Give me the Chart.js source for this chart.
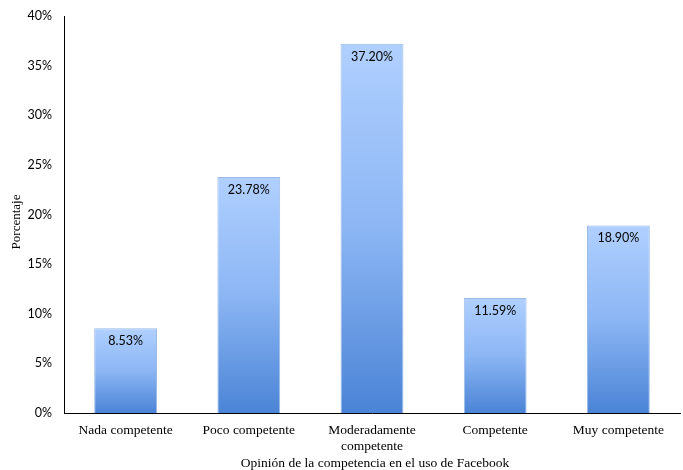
<!DOCTYPE html>
<html><head><meta charset="utf-8">
<script src="https://cdn.jsdelivr.net/npm/chart.js@4/dist/chart.umd.min.js"></script>
<style>html,body{margin:0;padding:0;background:#fff}#wrap{width:683px;height:470px}</style>
</head><body><div id="wrap"><canvas id="c" width="683" height="470"></canvas></div>
<script>
const categories = [["Nada competente"], ["Poco competente"], ["Moderadamente", "competente"], ["Competente"], ["Muy competente"]];
const values = [8.53, 23.78, 37.20, 11.59, 18.90];
const yTicks = [0, 5, 10, 15, 20, 25, 30, 35, 40];
const yTitle = "Porcentaje";
const xTitle = "Opinión de la competencia en el uso de Facebook";

const labelsPlugin = {
  id: 'extras',
  afterDatasetsDraw(chart) {
    const ctx = chart.ctx;
    const meta = chart.getDatasetMeta(0);
    ctx.save();
    ctx.fillStyle = '#000';
    ctx.font = '12.5px Lato, "Liberation Sans", sans-serif';
    ctx.textAlign = 'center';
    ctx.textBaseline = 'middle';
    meta.data.forEach((bar, i) => {
      ctx.fillText(values[i].toFixed(2) + '%', bar.x, bar.y + 13);
    });
    ctx.restore();
  },
  afterDraw(chart) {
    const ctx = chart.ctx;
    ctx.save();
    ctx.fillStyle = '#000';
    ctx.textAlign = 'center';
    ctx.textBaseline = 'middle';
    ctx.font = '13.5px "Liberation Serif", "Times New Roman", serif';
    ctx.fillText(xTitle, 375, 463);
    ctx.font = '13px "Liberation Serif", "Times New Roman", serif';
    ctx.translate(17, 222);
    ctx.rotate(-Math.PI / 2);
    ctx.fillText(yTitle, 0, 0);
    ctx.restore();
  }
};

new Chart(document.getElementById('c'), {
  type: 'bar',
  data: {
    labels: categories,
    datasets: [{
      data: values,
      backgroundColor(context) {
        const chart = context.chart;
        const a = chart.chartArea;
        if (!a) return '#7aa7e8';
        const y = chart.scales.y;
        const top = y.getPixelForValue(values[context.dataIndex]);
        const bottom = y.getPixelForValue(0);
        const g = chart.ctx.createLinearGradient(0, top, 0, bottom);
        g.addColorStop(0, '#b0d0ff');
        g.addColorStop(0.5, '#8cb6f4');
        g.addColorStop(1, '#4b84d6');
        return g;
      },
      borderColor: '#9bbbe6',
      borderWidth: 1,
      categoryPercentage: 1,
      barPercentage: 0.51
    }]
  },
  options: {
    responsive: false,
    animation: false,
    layout: { padding: { top: 16, right: 3, left: 0, bottom: 0 } },
    plugins: { legend: { display: false }, tooltip: { enabled: false } },
    scales: {
      x: {
        grid: { display: false, drawTicks: false },
        border: { display: true, color: '#000', width: 1 },
        ticks: {
          color: '#000', padding: 10, maxRotation: 0, autoSkip: false,
          font: { family: '"Liberation Serif", "Times New Roman", serif', size: 13.5, lineHeight: 1.15 }
        },
        afterFit(s) { s.height = 57; }
      },
      y: {
        min: 0, max: 40,
        grid: { display: false, drawTicks: false },
        border: { display: true, color: '#000', width: 1 },
        afterBuildTicks(s) { s.ticks = yTicks.map(v => ({ value: v })); },
        ticks: {
          color: '#000', padding: 12,
          font: { family: 'Lato, "Liberation Sans", sans-serif', size: 12.5 },
          callback: v => v + '%'
        },
        afterFit(s) { s.width = 64; s.paddingTop = 0; s.paddingBottom = 0; }
      }
    }
  },
  plugins: [labelsPlugin]
});
</script></body></html>
